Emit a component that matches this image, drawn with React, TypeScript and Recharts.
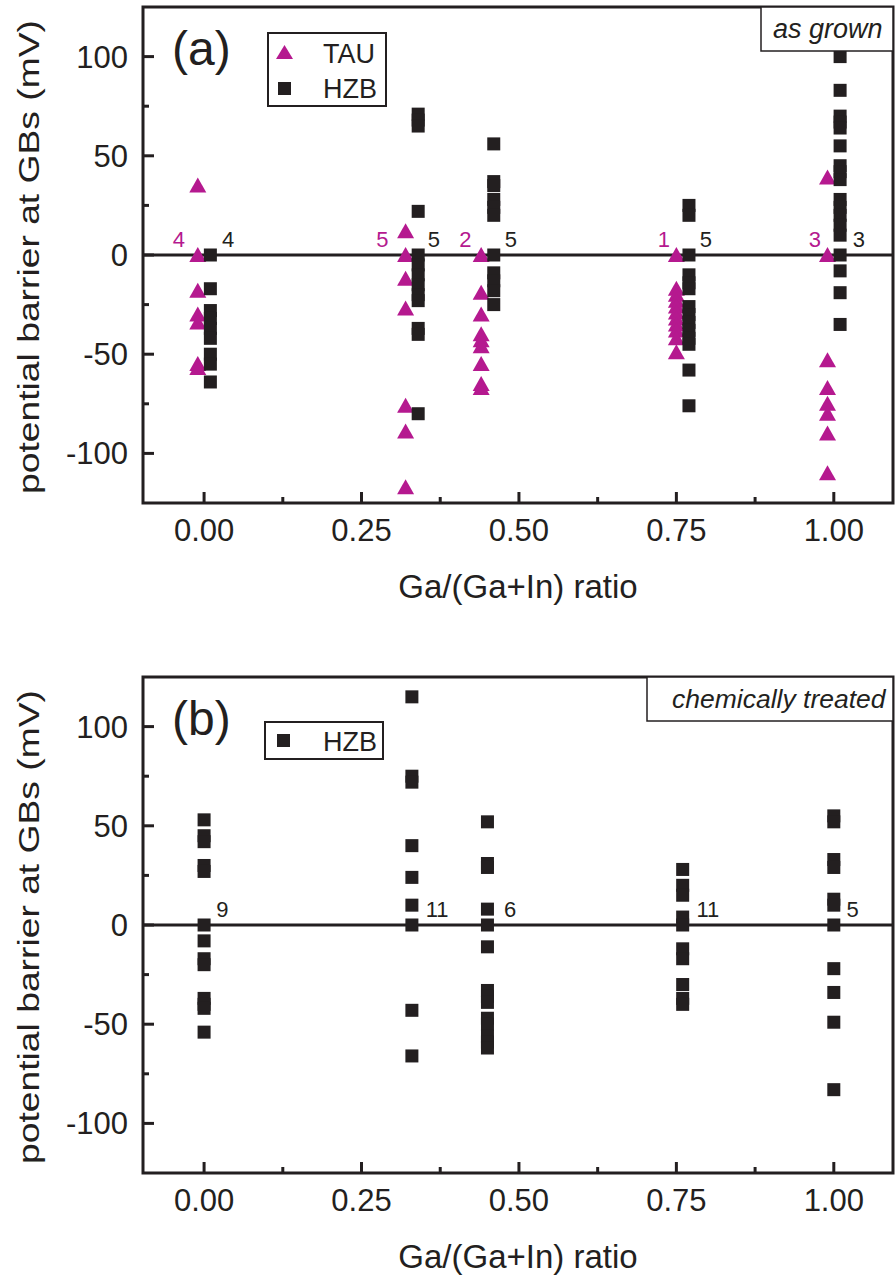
import React from "react";
import { ScatterChart, Scatter, XAxis, YAxis, ReferenceLine, ReferenceArea } from "recharts";

const FONT = '"Liberation Sans", Arial, Helvetica, sans-serif';
const INK = "#231f20";
const MAGENTA = "#b5198f";

// Ga/(Ga+In) axis: labelled every 0.25, minor marks halfway between
const ratioTicks = [0, 0.125, 0.25, 0.375, 0.5, 0.625, 0.75, 0.875, 1];
const ratioMajor = [0, 0.25, 0.5, 0.75, 1];
const ratioDomain: [number, number] = [-0.097, 1.094];

const barrierTicks = [-100, -75, -50, -25, 0, 25, 50, 75, 100];
const barrierMajor = [-100, -50, 0, 50, 100];
const barrierDomain: [number, number] = [-125, 125];

// (a) as grown, TAU (triangles)
const tauRatios = [-0.01, 0.32, 0.44, 0.75, 0.99];
const tauBarriers = [
  [35, 0, -18, -30, -34, -55, -57],
  [12, 0, -12, -27, -76, -89, -117],
  [0, -19, -30, -40, -43, -46, -55, -65, -67],
  [0, -17, -20, -23, -26, -29, -32, -35, -38, -42, -49],
  [39, 0, -53, -67, -75, -80, -90, -110],
];
const tauCounts = ["4", "5", "2", "1", "3"];
const tauCountRatios = [-0.04, 0.283, 0.415, 0.73, 0.97];

// (a) as grown, HZB (squares)
const hzbRatios = [0.01, 0.34, 0.46, 0.77, 1.01];
const hzbBarriers = [
  [0, -17, -28, -32, -37, -42, -50, -55, -64],
  [71, 68, 65, 22, 0, -5, -10, -15, -20, -23, -37, -40, -80],
  [56, 37, 35, 28, 24, 20, 0, -9, -13, -18, -25],
  [25, 20, 0, -10, -14, -17, -26, -30, -34, -38, -42, -45, -58, -76],
  [100, 83, 70, 67, 64, 55, 45, 42, 38, 28, 24, 20, 15, 10, 0, -8, -19, -35],
];
const hzbCounts = ["4", "5", "5", "5", "3"];
const hzbCountRatios = [0.038, 0.365, 0.487, 0.797, 1.04];

// (b) chemically treated, HZB
const treatedRatios = [0, 0.33, 0.45, 0.76, 1.0];
const treatedBarriers = [
  [53, 45, 42, 30, 27, 0, -8, -17, -20, -37, -40, -42, -54],
  [115, 75, 72, 40, 24, 10, 0, -43, -66],
  [52, 31, 29, 8, 0, -11, -33, -36, -39, -47, -50, -56, -59, -62],
  [28, 20, 15, 4, 0, -12, -17, -30, -37, -40],
  [55, 52, 33, 29, 13, 10, 0, -22, -34, -49, -83],
];
const treatedCounts = ["9", "11", "6", "11", "5"];
const treatedCountRatios = [0.029, 0.37, 0.486, 0.8, 1.03];

// count labels sit just above the zero line
const countLevel = 8;

const CHART_W = 895;
const CHART_H = 640;
const PLOT_H = 496;
const X_AXIS_H = 100;

type Pt = { x: number; y: number };
type CountPt = { x: number; y: number; text: string; color: string };

const toPoints = (xs: number[], ys: number[][]): Pt[] =>
  xs.flatMap((x, i) => ys[i].map((y) => ({ x, y })));

const toCounts = (xs: number[], texts: string[], color: string): CountPt[] =>
  xs.map((x, i) => ({ x, y: countLevel, text: texts[i], color }));

function Triangle(props: any) {
  const { cx, cy } = props;
  return <polygon points={`${cx - 8.5},${cy + 7} ${cx + 8.5},${cy + 7} ${cx},${cy - 8}`} fill={MAGENTA} />;
}

function Square(props: any) {
  const { cx, cy } = props;
  return <rect x={cx - 6.5} y={cy - 6.5} width={13} height={13} fill={INK} />;
}

function CountLabel(props: any) {
  const { cx, cy, payload } = props;
  return (
    <text x={cx} y={cy} textAnchor="middle" dominantBaseline="central" fontSize={22} fontFamily={FONT} fill={payload.color}>
      {payload.text}
    </text>
  );
}

function RatioTick({ x, y, payload }: any) {
  const major = ratioMajor.includes(payload.value);
  return (
    <g>
      <line x1={x} x2={x} y1={y} y2={y - (major ? 11 : 6)} stroke={INK} strokeWidth={3} />
      {major && (
        <text x={x} y={y + 38} textAnchor="middle" fontSize={31} fontFamily={FONT} fill={INK}>
          {payload.value.toFixed(2)}
        </text>
      )}
    </g>
  );
}

function BarrierTick({ x, y, payload }: any) {
  const major = barrierMajor.includes(payload.value);
  return (
    <g>
      <line x1={x} x2={x + (major ? 11 : 6)} y1={y} y2={y} stroke={INK} strokeWidth={3} />
      {major && (
        <text x={x - 15} y={y + 11} textAnchor="end" fontSize={31} fontFamily={FONT} fill={INK}>
          {payload.value}
        </text>
      )}
    </g>
  );
}

function RatioTitle({ viewBox }: any) {
  return (
    <text x={viewBox.x + viewBox.width / 2} y={viewBox.y + 95} textAnchor="middle" fontSize={33} fontFamily={FONT} fill={INK}>
      Ga/(Ga+In) ratio
    </text>
  );
}

// the vertical title is stretched to run almost the full plot height
function BarrierTitle({ centerY }: { centerY: number }) {
  const x = 39;
  const len = 474;
  return (
    <text
      x={x - len / 2}
      y={centerY}
      transform={`rotate(-90, ${x}, ${centerY})`}
      textLength={len}
      lengthAdjust="spacingAndGlyphs"
      fontSize={30}
      fontFamily={FONT}
      fill={INK}
    >
      potential barrier at GBs (mV)
    </text>
  );
}

type PanelProps = {
  top: number;
  marginTop: number;
  triangles?: Pt[];
  squares: Pt[];
  counts: CountPt[];
};

function Panel({ top, marginTop, triangles, squares, counts }: PanelProps) {
  const marginBottom = CHART_H - X_AXIS_H - PLOT_H - marginTop;
  return (
    <div style={{ position: "absolute", left: 0, top }}>
      <ScatterChart width={CHART_W} height={CHART_H} margin={{ top: marginTop, right: 2, bottom: marginBottom, left: 43 }}>
        <XAxis
          type="number"
          dataKey="x"
          domain={ratioDomain}
          ticks={ratioTicks}
          interval={0}
          allowDataOverflow
          height={X_AXIS_H}
          axisLine={false}
          tickLine={false}
          tickSize={0}
          tickMargin={0}
          tick={(p: any) => <RatioTick {...p} />}
          label={{ content: (p: any) => <RatioTitle {...p} /> }}
        />
        <YAxis
          type="number"
          dataKey="y"
          domain={barrierDomain}
          ticks={barrierTicks}
          interval={0}
          allowDataOverflow
          width={100}
          axisLine={false}
          tickLine={false}
          tickSize={0}
          tickMargin={0}
          tick={(p: any) => <BarrierTick {...p} />}
          label={{ content: () => <BarrierTitle centerY={marginTop + PLOT_H / 2 + 2} /> }}
        />
        <ReferenceLine y={0} stroke={INK} strokeWidth={3} />
        {triangles && (
          <Scatter name="TAU" data={triangles} shape={(p: any) => <Triangle {...p} />} isAnimationActive={false} />
        )}
        <Scatter name="HZB" data={squares} shape={(p: any) => <Square {...p} />} isAnimationActive={false} />
        <Scatter name="counts" data={counts} legendType="none" shape={(p: any) => <CountLabel {...p} />} isAnimationActive={false} />
        <ReferenceArea
          x1={ratioDomain[0]}
          x2={ratioDomain[1]}
          y1={barrierDomain[0]}
          y2={barrierDomain[1]}
          fill="none"
          stroke={INK}
          strokeWidth={3}
        />
      </ScatterChart>
    </div>
  );
}

function Overlay() {
  const text = { fontFamily: FONT, fill: INK };
  return (
    <svg width={895} height={1281} style={{ position: "absolute", left: 0, top: 0, pointerEvents: "none" }}>
      {/* (a) */}
      <text x={172} y={65} fontSize={48} {...text}>(a)</text>
      <rect x={268} y={33} width={118} height={73} fill="#fff" stroke={INK} strokeWidth={2} />
      <polygon points="276,59 293,59 284.5,45" fill={MAGENTA} />
      <text x={323} y={63} fontSize={27} {...text}>TAU</text>
      <rect x={278} y={82} width={13} height={13} fill={INK} />
      <text x={323} y={98} fontSize={27} {...text}>HZB</text>
      <rect x={761} y={7} width={132} height={44} fill="#fff" stroke={INK} strokeWidth={1.5} />
      <text x={773} y={38} fontSize={27} fontStyle="italic" {...text}>as grown</text>

      {/* (b) */}
      <text x={172} y={735} fontSize={48} {...text}>(b)</text>
      <rect x={265} y={722} width={118} height={37} fill="#fff" stroke={INK} strokeWidth={2} />
      <rect x={277} y={734} width={13} height={13} fill={INK} />
      <text x={323} y={751} fontSize={27} {...text}>HZB</text>
      <rect x={647} y={677} width={246} height={44} fill="#fff" stroke={INK} strokeWidth={1.5} />
      <text x={672} y={708} fontSize={26.5} fontStyle="italic" {...text}>chemically treated</text>
    </svg>
  );
}

export default function App() {
  const tau = toPoints(tauRatios, tauBarriers);
  const hzb = toPoints(hzbRatios, hzbBarriers);
  const treated = toPoints(treatedRatios, treatedBarriers);
  const countsA = [
    ...toCounts(tauCountRatios, tauCounts, MAGENTA),
    ...toCounts(hzbCountRatios, hzbCounts, INK),
  ];
  const countsB = toCounts(treatedCountRatios, treatedCounts, INK);

  return (
    <div style={{ position: "absolute", left: 0, top: 0, width: 895, height: 1281, background: "#fff", fontFamily: FONT }}>
      <Panel top={0} marginTop={7} triangles={tau} squares={hzb} counts={countsA} />
      <Panel top={640} marginTop={37} squares={treated} counts={countsB} />
      <Overlay />
    </div>
  );
}
